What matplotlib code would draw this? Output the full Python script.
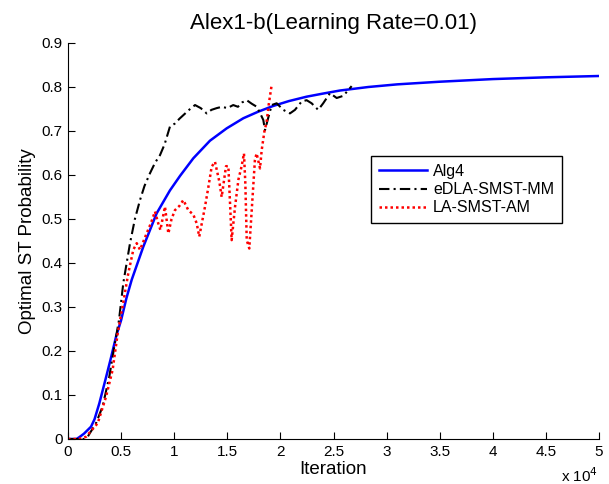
import numpy as np
import matplotlib
matplotlib.use("Agg")
import matplotlib.pyplot as plt

plt.rcParams['font.family'] = ['Liberation Sans', 'DejaVu Sans']

# Alg4 (smooth curve)
alg4_x = [0, 800, 1060, 1500, 2170, 2500, 2950, 3580, 4000, 4550, 5000, 5500, 6000, 7090,
          8350, 9600, 10550, 11800, 13370, 14940, 16510, 17920, 19330, 20800, 22470, 24000,
          25610, 28280, 31000, 35000, 40000, 45000, 50000]
alg4_y = [0, 0, 0.004, 0.012, 0.028, 0.045, 0.081, 0.14, 0.18, 0.235, 0.27, 0.32, 0.362, 0.437,
          0.513, 0.565, 0.598, 0.638, 0.678, 0.706, 0.729, 0.744, 0.757, 0.768, 0.778, 0.785,
          0.792, 0.80, 0.806, 0.812, 0.818, 0.822, 0.825]

# eDLA-SMST-MM
edla_x = [0, 1500, 1850, 2640, 3260, 3890, 4360, 4800, 5210, 5840, 6300, 6780, 7200, 7720,
          8200, 8660, 9100, 9600, 10070, 10500, 10860, 11400, 11960, 12500, 13060, 13500,
          14000, 14500, 15000, 15560, 16000, 16400, 16830, 17300, 17780, 18100, 18390, 18550,
          18800, 19180, 19650, 20270, 20900, 21370, 22000, 22470, 22940, 23560, 24030, 24670,
          25300, 25930, 26710]
edla_y = [0, 0, 0.005, 0.036, 0.074, 0.142, 0.21, 0.27, 0.355, 0.445, 0.50, 0.543, 0.575, 0.604,
          0.628, 0.645, 0.67, 0.71, 0.717, 0.728, 0.736, 0.748, 0.759, 0.752, 0.74, 0.748,
          0.752, 0.755, 0.752, 0.759, 0.755, 0.765, 0.77, 0.762, 0.755, 0.74, 0.725, 0.702,
          0.725, 0.759, 0.763, 0.748, 0.74, 0.748, 0.767, 0.77, 0.763, 0.748, 0.763, 0.786,
          0.775, 0.78, 0.802]

# LA-SMST-AM
la_x = [0, 1000, 1700, 2800, 3580, 4200, 4680, 5200, 5680, 6150, 6470, 6780, 7400, 7800,
        8190, 8500, 8700, 9130, 9450, 9750, 10070, 10500, 10860, 11330, 11800, 12120, 12360,
        12900, 13200, 13530, 13840, 14250, 14470, 14880, 15100, 15250, 15410, 15730, 16050,
        16350, 16570, 16700, 16830, 17070, 17300, 17600, 17760, 18080, 18240, 18500, 18700,
        18900, 19180]
la_y = [0, 0, 0.005, 0.036, 0.096, 0.157, 0.24, 0.31, 0.377, 0.43, 0.445, 0.43, 0.467, 0.49,
        0.517, 0.49, 0.475, 0.528, 0.467, 0.50, 0.52, 0.53, 0.543, 0.52, 0.51, 0.49, 0.46,
        0.528, 0.57, 0.619, 0.63, 0.585, 0.55, 0.62, 0.62, 0.54, 0.452, 0.528, 0.59,
        0.62, 0.649, 0.58, 0.452, 0.433, 0.52, 0.634, 0.649, 0.615, 0.657, 0.70, 0.72,
        0.76, 0.805]

xticks = [0, 5000, 10000, 15000, 20000, 25000, 30000, 35000, 40000, 45000, 50000]
xtick_labels = ['0', '0.5', '1', '1.5', '2', '2.5', '3', '3.5', '4', '4.5', '5']
yticks = [0, 0.1, 0.2, 0.3, 0.4, 0.5, 0.6, 0.7, 0.8, 0.9]
ytick_labels = ['0', '0.1', '0.2', '0.3', '0.4', '0.5', '0.6', '0.7', '0.8', '0.9']

fig = plt.figure(figsize=(6.09, 4.84), dpi=100)
ax = fig.add_axes([68/609, 1 - 439/484, 531/609, 396/484])

ax.plot(alg4_x, alg4_y, color='#0000ff', lw=1.8, label='Alg4')
ax.plot(edla_x, edla_y, color='black', lw=1.5, linestyle=(0, (5, 2, 1, 2)), label='eDLA-SMST-MM')
ax.plot(la_x, la_y, color='#ff0000', lw=1.8, linestyle=(0, (1, 1.2)), label='LA-SMST-AM')

ax.set_xlim(0, 50000)
ax.set_ylim(0, 0.9)
ax.set_xticks(xticks)
ax.set_xticklabels(xtick_labels)
ax.set_yticks(yticks)
ax.set_yticklabels(ytick_labels)
ax.tick_params(direction='in', length=5, labelsize=11, colors='black', pad=4)
ax.spines['top'].set_visible(False)
ax.spines['right'].set_visible(False)

ax.set_title('Alex1-b(Learning Rate=0.01)', fontsize=16, pad=10)
ax.set_xlabel('Iteration', fontsize=13.5, labelpad=2)
ax.set_ylabel('Optimal ST Probability', fontsize=13.5, labelpad=4)
fig.text(598/609, 1 - 482/484, r'x 10$^{4}$', ha='right', va='baseline', fontsize=11)

leg = ax.legend(loc='upper right', bbox_to_anchor=((562 - 68) / 531, (439 - 156) / 396),
                fontsize=11.5, fancybox=False, edgecolor='black', framealpha=1,
                handlelength=3.0, handletextpad=0.35, labelspacing=0.2, borderpad=0.5,
                borderaxespad=0)
leg.get_frame().set_linewidth(1.0)

fig.savefig('out.png', dpi=100)
